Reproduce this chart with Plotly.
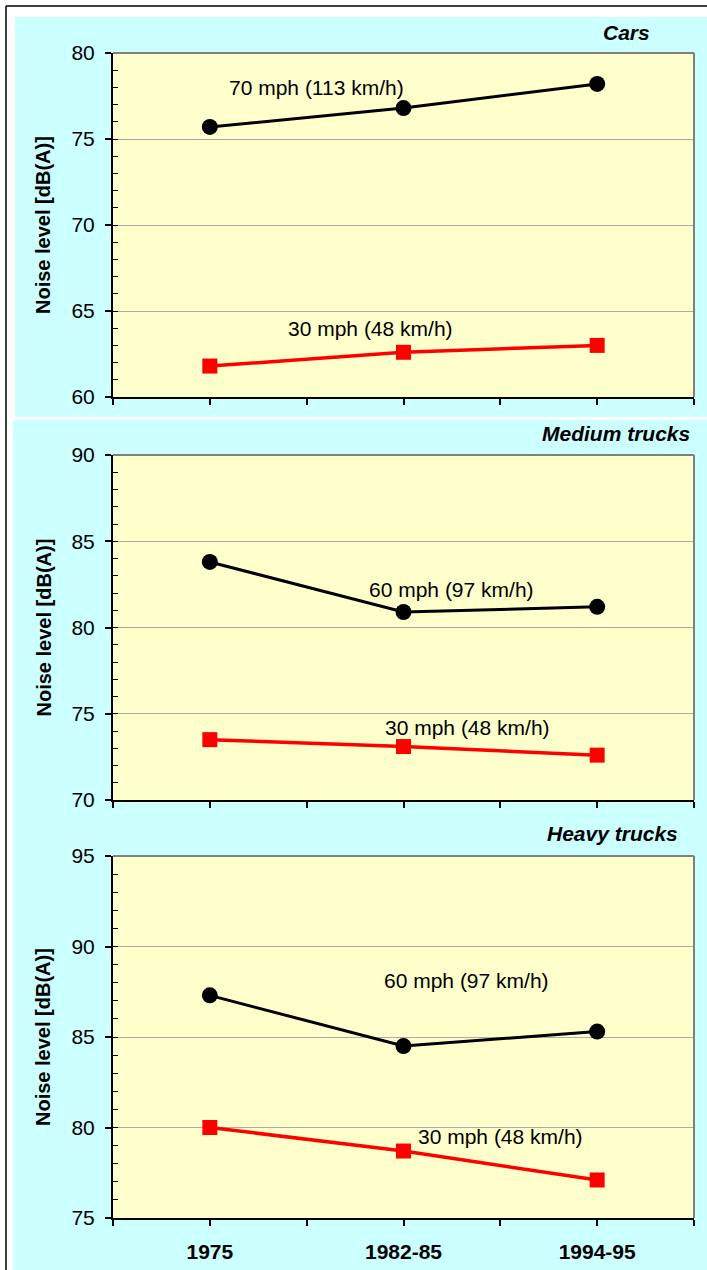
import plotly.graph_objects as go

# Survey periods and measured pass-by noise levels, dB(A)
periods = ["1975", "1982-85", "1994-95"]
period_pos = [1, 3, 5]

cars_fast = [75.7, 76.8, 78.2]      # 70 mph (113 km/h)
cars_slow = [61.8, 62.6, 63.0]      # 30 mph (48 km/h)
medium_fast = [83.8, 80.9, 81.2]    # 60 mph (97 km/h)
medium_slow = [73.5, 73.1, 72.6]    # 30 mph (48 km/h)
heavy_fast = [87.3, 84.5, 85.3]     # 60 mph (97 km/h)
heavy_slow = [80.0, 78.7, 77.1]     # 30 mph (48 km/h)

panel_titles = ["Cars", "Medium trucks", "Heavy trucks"]
fast_labels = ["70 mph (113 km/h)", "60 mph (97 km/h)", "60 mph (97 km/h)"]
slow_labels = ["30 mph (48 km/h)", "30 mph (48 km/h)", "30 mph (48 km/h)"]
y_ranges = [(60, 80), (70, 90), (75, 95)]

W, H = 707, 1270
FONT = "Arial, Liberation Sans, sans-serif"
CYAN = "#CCFFFF"
YELLOW = "#FFFFCC"
RED = "#FF0000"


def px_x(x):
    return x / W


def px_y(y):
    return 1 - y / H


# plot-area placement (pixels from top-left)
plot_left, plot_right = 113, 694
plot_tops = [53, 455, 856]
plot_bottoms = [397, 800, 1218]

fig = go.Figure()

series = [
    (cars_fast, cars_slow),
    (medium_fast, medium_slow),
    (heavy_fast, heavy_slow),
]

for i, (fast, slow) in enumerate(series):
    ax = "" if i == 0 else str(i + 1)
    fig.add_trace(go.Scatter(
        x=period_pos, y=fast, mode="lines+markers",
        line=dict(color="black", width=3),
        marker=dict(symbol="circle", size=16, color="black"),
        xaxis="x" + ax, yaxis="y" + ax, showlegend=False, cliponaxis=False,
    ))
    fig.add_trace(go.Scatter(
        x=period_pos, y=slow, mode="lines+markers",
        line=dict(color=RED, width=3.5),
        marker=dict(symbol="square", size=15, color=RED),
        xaxis="x" + ax, yaxis="y" + ax, showlegend=False, cliponaxis=False,
    ))

layout = dict(
    width=W, height=H, autosize=False,
    margin=dict(l=0, r=0, t=0, b=0, pad=0, autoexpand=False),
    paper_bgcolor="white", plot_bgcolor=YELLOW,
    font=dict(family=FONT, color="black"),
    showlegend=False,
)

for i in range(3):
    ax = "" if i == 0 else str(i + 1)
    last = i == 2
    layout["xaxis" + ax] = dict(
        domain=[px_x(plot_left), px_x(plot_right)],
        anchor="y" + ax, range=[0, 6], automargin=False,
        tickmode="array", tickvals=list(range(7)),
        ticktext=["", periods[0], "", periods[1], "", periods[2], ""] if last else [""] * 7,
        showticklabels=last,
        ticks="outside", ticklen=6, tickwidth=1.5, tickcolor="black",
        showgrid=False, zeroline=False,
        showline=True, linecolor="black", linewidth=2,
        tickfont=dict(size=21, family=FONT, weight="bold"),
        ticklabelstandoff=8,
        fixedrange=True,
    )
    lo, hi = y_ranges[i]
    layout["yaxis" + ax] = dict(
        domain=[px_y(plot_bottoms[i]), px_y(plot_tops[i])],
        anchor="x" + ax, range=[lo, hi], automargin=False,
        tickmode="linear", tick0=lo, dtick=5,
        ticks="outside", ticklen=6, tickwidth=1.5, tickcolor="black",
        minor=dict(dtick=1, tick0=lo, ticks="inside", ticklen=5,
                   tickwidth=1, tickcolor="black", showgrid=False),
        showgrid=True, gridcolor="#ABABAB", gridwidth=1,
        zeroline=False,
        showline=True, linecolor="black", linewidth=2,
        tickfont=dict(size=21, family=FONT),
        ticklabelstandoff=6,
        fixedrange=True,
    )

shapes = [
    # panel backgrounds
    dict(type="rect", xref="paper", yref="paper", layer="below",
         x0=px_x(15), x1=1, y0=px_y(417), y1=px_y(17),
         fillcolor=CYAN, line=dict(width=0)),
    dict(type="rect", xref="paper", yref="paper", layer="below",
         x0=px_x(13), x1=1, y0=0, y1=px_y(420),
         fillcolor=CYAN, line=dict(width=0)),
    # outer frame
    dict(type="line", xref="paper", yref="paper",
         x0=px_x(6), x1=px_x(6), y0=0, y1=px_y(6),
         line=dict(color="black", width=1.5)),
    dict(type="line", xref="paper", yref="paper",
         x0=px_x(6), x1=1, y0=px_y(6), y1=px_y(6),
         line=dict(color="black", width=1.5)),
]

for i in range(3):
    ax = "" if i == 0 else str(i + 1)
    # plot-area fill over the panel background
    shapes.append(dict(type="rect", xref="x" + ax + " domain", yref="y" + ax + " domain",
                       layer="below", x0=0, x1=1, y0=0, y1=1,
                       fillcolor=YELLOW, line=dict(width=0)))
    # grey top/right plot-area border
    shapes.append(dict(type="line", xref="x" + ax + " domain", yref="y" + ax + " domain",
                       x0=0, x1=1, y0=1, y1=1, line=dict(color="#808080", width=2)))
    shapes.append(dict(type="line", xref="x" + ax + " domain", yref="y" + ax + " domain",
                       x0=1, x1=1, y0=0, y1=1, line=dict(color="#808080", width=2)))

layout["shapes"] = shapes

annotations = []
title_right = [652, 692, 680]
title_y = [32, 433, 833]
for i in range(3):
    annotations.append(dict(
        text=panel_titles[i], xref="paper", yref="paper",
        x=px_x(title_right[i]), y=px_y(title_y[i]),
        xanchor="right", yanchor="middle", showarrow=False,
        font=dict(size=21, family=FONT, weight="bold", style="italic"),
    ))
    mid = (plot_tops[i] + plot_bottoms[i]) / 2
    annotations.append(dict(
        text="Noise level [dB(A)]", xref="paper", yref="paper",
        x=px_x(43), y=px_y(mid), textangle=-90,
        xanchor="center", yanchor="middle", showarrow=False,
        font=dict(size=20, family=FONT, weight="bold"),
    ))

# series labels, placed in each panel's data space
label_pos = [
    ((2.1, 78.0), (2.66, 64.0)),
    ((3.5, 82.2), (3.66, 74.2)),
    ((3.65, 88.1), (4.0, 79.5)),
]
for i in range(3):
    ax = "" if i == 0 else str(i + 1)
    (fx, fy), (sx, sy) = label_pos[i]
    annotations.append(dict(text=fast_labels[i], xref="x" + ax, yref="y" + ax,
                            x=fx, y=fy, showarrow=False,
                            font=dict(size=21, family=FONT)))
    annotations.append(dict(text=slow_labels[i], xref="x" + ax, yref="y" + ax,
                            x=sx, y=sy, showarrow=False,
                            font=dict(size=21, family=FONT)))

layout["annotations"] = annotations
fig.update_layout(**layout)

fig.write_html(
    "out.html",
    post_script="document.body.style.margin='0';document.body.style.overflow='hidden';",
)
